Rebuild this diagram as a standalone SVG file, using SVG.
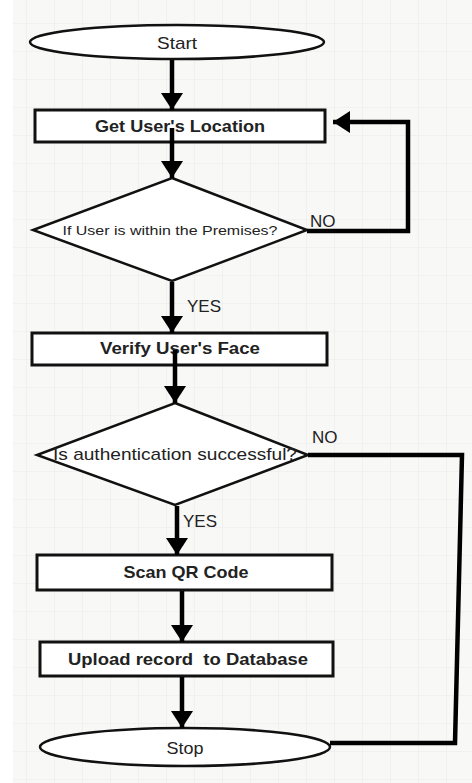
<svg xmlns="http://www.w3.org/2000/svg" width="472" height="783" viewBox="0 0 472 783">
<defs>
<pattern id="grid" x="26" y="23" width="28" height="28" patternUnits="userSpaceOnUse">
<rect width="28" height="28" fill="#f8f8f7"/>
<path d="M0,0 H28 M0,0 V28" stroke="#ebebeb" stroke-width="1.2" fill="none"/>
</pattern>
<marker id="ah" markerUnits="userSpaceOnUse" markerWidth="18" markerHeight="22" refX="17" refY="11" orient="auto" viewBox="0 0 18 22">
<path d="M0,0 L17,11 L0,22 z" fill="#000"/>
</marker>
<style>
.box{fill:#fff;stroke:#111;stroke-width:3}
.shape{fill:#fff;stroke:#111;stroke-width:2.5}
.conn{fill:none;stroke:#000;stroke-width:4.5;stroke-linejoin:miter}
.lb{font-family:"Liberation Sans",Arial,sans-serif;font-weight:bold;font-size:17px;fill:#222;text-anchor:middle;white-space:pre}
.lr{font-family:"Liberation Sans",Arial,sans-serif;font-size:17px;fill:#222;text-anchor:middle}
.edge{font-family:"Liberation Sans",Arial,sans-serif;font-size:17px;fill:#222}
</style>
</defs>
<rect width="472" height="783" fill="#fff"/>
<rect x="13" y="0" width="459" height="783" fill="url(#grid)"/>

<g id="start">
<ellipse class="shape" cx="177" cy="42" rx="147" ry="17"/>
<text class="lr" x="177" y="49" textLength="40" lengthAdjust="spacingAndGlyphs">Start</text>
</g>
<g id="get-location">
<rect class="box" x="35" y="110" width="290" height="32"/>
<text class="lb" x="180" y="132" textLength="170" lengthAdjust="spacingAndGlyphs">Get User's Location</text>
</g>
<g id="decision-premises">
<polygon class="shape" points="172,178 307,230 172,281 33,230"/>
<text class="lr" x="170" y="235" font-size="13.5" textLength="215" lengthAdjust="spacingAndGlyphs" style="font-size:13.5px">If User is within the Premises?</text>
</g>
<g id="verify-face">
<rect class="box" x="32" y="333" width="295" height="32"/>
<text class="lb" x="180" y="354" textLength="160" lengthAdjust="spacingAndGlyphs">Verify User's Face</text>
</g>
<g id="decision-auth">
<polygon class="shape" points="175,403 308,455 175,505 37,455"/>
<text class="lr" x="175" y="460" textLength="244" lengthAdjust="spacingAndGlyphs">Is authentication successful?</text>
</g>
<g id="scan-qr">
<rect class="box" x="37" y="555" width="295" height="35"/>
<text class="lb" x="186" y="578" textLength="125" lengthAdjust="spacingAndGlyphs">Scan QR Code</text>
</g>
<g id="upload">
<rect class="box" x="40" y="642" width="293" height="34"/>
<text class="lb" x="188" y="665" textLength="240" lengthAdjust="spacingAndGlyphs" xml:space="preserve">Upload record  to Database</text>
</g>
<g id="stop">
<ellipse class="shape" cx="185" cy="747" rx="145" ry="19"/>
<text class="lr" x="185" y="754" textLength="37" lengthAdjust="spacingAndGlyphs">Stop</text>
</g>

<g id="connectors">
<path class="conn" d="M172,60 V110" marker-end="url(#ah)"/>
<path class="conn" d="M172,128 V178" marker-end="url(#ah)"/>
<path class="conn" d="M172,282 V333" marker-end="url(#ah)"/>
<path class="conn" d="M175,350 V403" marker-end="url(#ah)"/>
<path class="conn" d="M177,506 V555" marker-end="url(#ah)"/>
<path class="conn" d="M182,591 V642" marker-end="url(#ah)"/>
<path class="conn" d="M182,677 V728" marker-end="url(#ah)"/>
<path class="conn" d="M307,231 H408 V122 H333" marker-end="url(#ah)"/>
<path class="conn" d="M308,455 H462 L455,743 H330"/>
<text class="edge" x="310" y="227">NO</text>
<text class="edge" x="187" y="312">YES</text>
<text class="edge" x="312" y="443">NO</text>
<text class="edge" x="183" y="527">YES</text>
</g>
</svg>
